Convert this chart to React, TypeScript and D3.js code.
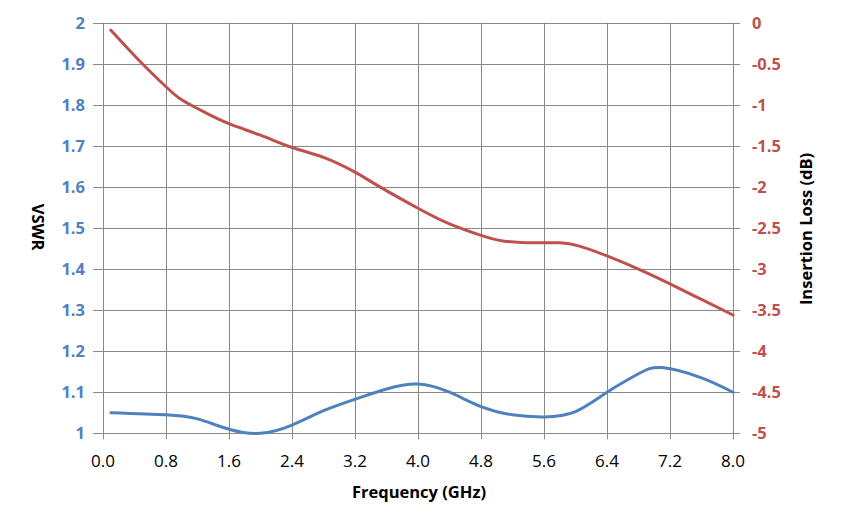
import React from "react";
import * as d3 from "d3";

const freqTicks = [0, 0.8, 1.6, 2.4, 3.2, 4.0, 4.8, 5.6, 6.4, 7.2, 8.0];
const vswrTicks = [1, 1.1, 1.2, 1.3, 1.4, 1.5, 1.6, 1.7, 1.8, 1.9, 2];
const lossTicks = [0, -0.5, -1, -1.5, -2, -2.5, -3, -3.5, -4, -4.5, -5];

const vswrFreq = [0.1, 0.8, 1.2, 1.6, 2.0, 2.4, 2.8, 3.2, 3.6, 4.0, 4.4, 4.8, 5.2, 5.6, 6.0, 6.4, 6.8, 7.1, 7.6, 8.0];
const vswrVals = [1.05, 1.045, 1.035, 1.01, 1.0, 1.02, 1.055, 1.083, 1.108, 1.12, 1.1, 1.065, 1.045, 1.04, 1.053, 1.1, 1.145, 1.16, 1.135, 1.1];

const lossFreq = [0.1, 0.5, 0.8, 0.97, 1.15, 1.3, 1.6, 2.0, 2.4, 2.8, 3.2, 3.5, 4.0, 4.4, 4.8, 5.1, 5.5, 5.8, 6.05, 6.4, 6.8, 7.2, 7.6, 8.0];
const lossVals = [-0.09, -0.5, -0.78, -0.92, -1.02, -1.095, -1.23, -1.37, -1.52, -1.64, -1.82, -1.99, -2.26, -2.45, -2.59, -2.66, -2.68, -2.68, -2.72, -2.84, -3.0, -3.18, -3.37, -3.56];

const W = 844;
const H = 529;
const M = { left: 103, right: 733, top: 22.7, bottom: 433.3 };
const FONT = "'Open Sans', Lato, sans-serif";
const BLUE = "#4F81BD";
const RED = "#C0504D";
const GRID = "#898989";

export default function App() {
  const x = d3.scaleLinear().domain([0, 8]).range([M.left, M.right]);
  const yL = d3.scaleLinear().domain([1, 2]).range([M.bottom, M.top]);
  const yR = d3.scaleLinear().domain([-5, 0]).range([M.bottom, M.top]);

  const vswrLine = d3
    .line<number>()
    .x((_, i) => x(vswrFreq[i]))
    .y((d) => yL(d))
    .curve(d3.curveNatural);
  const lossLine = d3
    .line<number>()
    .x((_, i) => x(lossFreq[i]))
    .y((d) => yR(d))
    .curve(d3.curveNatural);

  return (
    <svg
      width={W}
      height={H}
      style={{ position: "absolute", left: 0, top: 0, background: "#fff" }}
    >
      <rect x={0} y={0} width={W} height={H} fill="#fff" />
      {vswrTicks.map((t) => (
        <line
          key={"h" + t}
          x1={M.left - 10}
          x2={M.right + 7}
          y1={Math.round(yL(t)) + 0.5}
          y2={Math.round(yL(t)) + 0.5}
          stroke={GRID}
          strokeWidth={1}
        />
      ))}
      {freqTicks.map((t) => (
        <line
          key={"v" + t}
          x1={Math.round(x(t)) + 0.5}
          x2={Math.round(x(t)) + 0.5}
          y1={M.top}
          y2={M.bottom + 6}
          stroke={GRID}
          strokeWidth={1}
        />
      ))}
      <path d={lossLine(lossVals) || ""} fill="none" stroke={RED} strokeWidth={3} strokeLinecap="round" />
      <path d={vswrLine(vswrVals) || ""} fill="none" stroke={BLUE} strokeWidth={3} strokeLinecap="round" />
      {vswrTicks.map((t) => (
        <text
          key={"lt" + t}
          x={85}
          y={yL(t)}
          dy="0.36em"
          textAnchor="end"
          fontFamily={FONT}
          fontWeight="bold"
          fontSize={16.5}
          fill={BLUE}
        >
          {d3.format("~g")(t)}
        </text>
      ))}
      {lossTicks.map((t) => (
        <text
          key={"rt" + t}
          x={752}
          y={yR(t)}
          dy="0.36em"
          textAnchor="start"
          fontFamily={FONT}
          fontWeight="bold"
          fontSize={16.5}
          fill={RED}
        >
          {d3.format("~g")(t).replace("−", "-")}
        </text>
      ))}
      {freqTicks.map((t) => (
        <text
          key={"xt" + t}
          x={x(t)}
          y={461}
          dy="0.36em"
          textAnchor="middle"
          fontFamily={FONT}
          fontSize={17}
          fill="#000"
        >
          {d3.format(".1f")(t)}
        </text>
      ))}
      <text
        x={419}
        y={492}
        dy="0.36em"
        textAnchor="middle"
        fontFamily={FONT}
        fontWeight="bold"
        fontSize={16.5}
        fill="#000"
      >
        Frequency (GHz)
      </text>
      <text
        transform={`translate(38,227) rotate(90)`}
        dy="0.36em"
        textAnchor="middle"
        fontFamily={FONT}
        fontWeight="bold"
        fontSize={16.5}
        fill="#000"
      >
        VSWR
      </text>
      <text
        transform={`translate(806,229) rotate(-90)`}
        dy="0.36em"
        textAnchor="middle"
        fontFamily={FONT}
        fontWeight="bold"
        fontSize={16.5}
        fill="#000"
      >
        Insertion Loss (dB)
      </text>
    </svg>
  );
}
